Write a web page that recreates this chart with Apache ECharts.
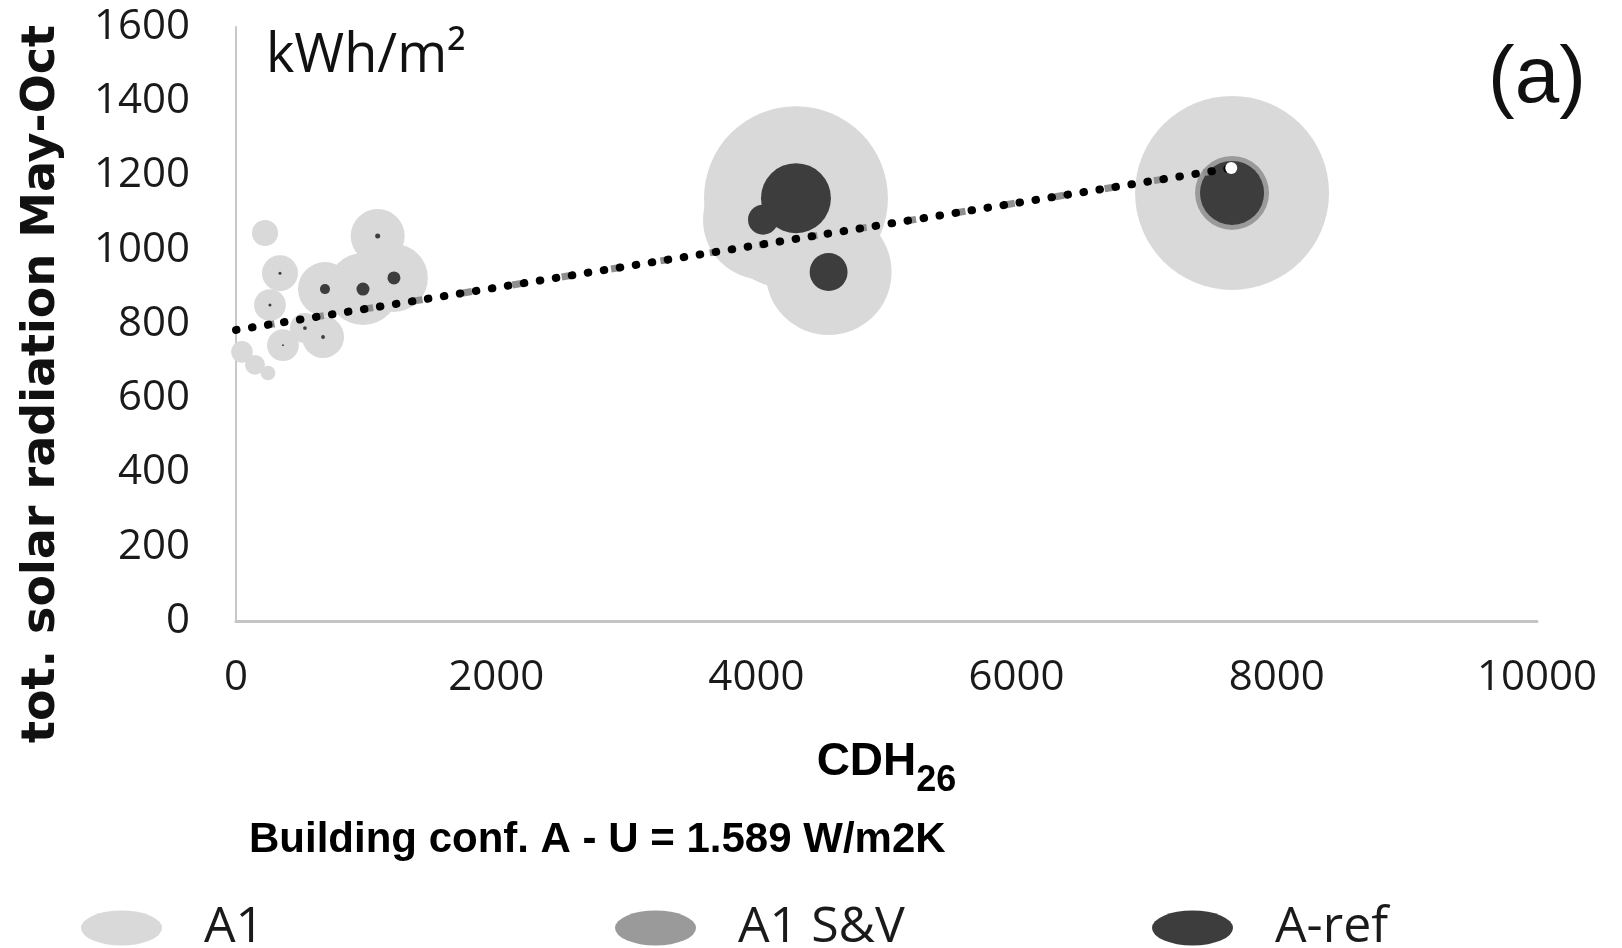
<!DOCTYPE html>
<html lang="en">
<head>
<meta charset="UTF-8">
<title>CDH26 vs solar radiation</title>
<script src="https://cdn.jsdelivr.net/npm/echarts@6/dist/echarts.min.js"></script>
<style>
  html, body { margin: 0; padding: 0; background: #fff; }
  #main { width: 1622px; height: 948px; }
</style>
</head>
<body>
<div id="main"></div>
<script>
// A1 bubbles (x = CDH26, y = kWh/m2, bubble value)
var a1X    = [7656, 4304, 4555, 4051, 1089, 1214, 976, 684, 669, 261, 338, 361, 246, 146, 46, 223, 530];
var a1Y    = [1153, 1139, 940, 1081, 1037, 924, 894, 894, 765, 851, 937, 743, 668, 690, 725, 1045, 789];
var a1Size = [1045, 940, 441, 400, 81, 128, 144, 81, 49, 28, 36, 28, 6, 11, 13, 19, 25];

// A1 S&V bubbles
var svX    = [7656, 4304, 4555, 4051];
var svY    = [1153, 1139, 940, 1081];
var svSize = [152, 100, 25, 16];

// A-ref bubbles
var refX    = [7656, 4304, 4555, 4051, 1089, 1214, 976, 684, 669, 261, 338, 361, 530];
var refY    = [1153, 1139, 940, 1081, 1037, 924, 894, 894, 765, 851, 937, 743, 789];
var refSize = [114, 136, 40, 25, 0.7, 4.7, 4.7, 2.8, 0.4, 0.25, 0.25, 0.1, 0.4];

// linear trend
var trendX = [0, 7650];
var trendY = [784, 1220];

var xTicks = [0, 2000, 4000, 6000, 8000, 10000];
var yTicks = [0, 200, 400, 600, 800, 1000, 1200, 1400, 1600];

function zip(xs, ys, ss) {
  return xs.map(function (x, i) { return [x, ys[i], ss[i]]; });
}
function bubble(v) { return Math.sqrt(v[2]) * 6; }
function plain(v) { return String(v); }

var FONT = 'Open Sans';
// ellipse drawn in an 81x35 box
var ellipse = 'path://M0,17.5 A40.5,17.5 0 1,1 81,17.5 A40.5,17.5 0 1,1 0,17.5 Z';

var legendBase = {
  top: 898,
  icon: ellipse,
  itemWidth: 81,
  itemHeight: 35,
  selectedMode: false,
  textStyle: { fontFamily: FONT, fontSize: 50, color: '#1a1a1a', padding: [0, 0, 0, 37] }
};

var myChart = echarts.init(document.getElementById('main'));

myChart.setOption({
  animation: false,
  backgroundColor: '#fff',
  title: {
    text: 'Building conf. A - U = 1.589 W/m2K',
    left: 244,
    top: 814,
    textStyle: { fontFamily: 'Liberation Sans', fontWeight: 'bold', fontSize: 42, color: '#000' }
  },
  legend: [
    Object.assign({}, legendBase, { left: 76, data: ['A1'] }),
    Object.assign({}, legendBase, { left: 610, data: ['A1 S&V'] }),
    Object.assign({}, legendBase, { left: 1147, data: ['A-ref'] })
  ],
  grid: { left: 236, right: 85, top: 27, bottom: 327 },
  xAxis: {
    type: 'value',
    min: xTicks[0],
    max: xTicks[xTicks.length - 1],
    interval: 2000,
    axisLine: { show: true, lineStyle: { color: '#c4c4c4', width: 3 } },
    axisTick: { show: false },
    splitLine: { show: false },
    axisLabel: { fontFamily: FONT, fontSize: 42, color: '#1a1a1a', margin: 36, formatter: plain },
    name: '{a|CDH}{b|26}',
    nameLocation: 'middle',
    nameGap: 118,
    nameTextStyle: {
      rich: {
        a: { fontFamily: 'Liberation Sans', fontWeight: 'bold', fontSize: 46, color: '#000', verticalAlign: 'top', lineHeight: 50 },
        b: { fontFamily: 'Liberation Sans', fontWeight: 'bold', fontSize: 36, color: '#000', verticalAlign: 'top', lineHeight: 40, padding: [24, 0, 0, 0] }
      }
    }
  },
  yAxis: {
    type: 'value',
    min: yTicks[0],
    max: yTicks[yTicks.length - 1],
    interval: 200,
    axisLine: { show: true, lineStyle: { color: '#c8c8c8', width: 2 } },
    axisTick: { show: false },
    splitLine: { show: false },
    axisLabel: { fontFamily: FONT, fontSize: 42, color: '#1a1a1a', margin: 46, formatter: plain }
  },
  graphic: [
    {
      type: 'text',
      left: 266, top: 30,
      style: { text: 'kWh/m²', font: '54px "Open Sans"', fill: '#111' }
    },
    {
      type: 'text',
      left: 1488, top: 40,
      style: { text: '(a)', font: '80px "Liberation Sans"', fill: '#111' }
    },
    {
      type: 'text',
      x: 19, y: 384,
      rotation: Math.PI / 2,
      style: {
        text: 'tot. solar radiation May-Oct',
        font: 'bold 46px "DejaVu Sans"',
        fill: '#111',
        align: 'center',
        verticalAlign: 'top'
      }
    }
  ],
  series: [
    {
      name: 'A1',
      type: 'scatter',
      data: zip(a1X, a1Y, a1Size),
      symbolSize: bubble,
      itemStyle: { color: '#d9d9d9', opacity: 1 },
      emphasis: { disabled: true },
      silent: true
    },
    {
      name: 'A1 S&V',
      type: 'scatter',
      data: zip(svX, svY, svSize),
      symbolSize: bubble,
      itemStyle: { color: '#9a9a9a', opacity: 1 },
      emphasis: { disabled: true },
      silent: true
    },
    {
      name: 'A-ref',
      type: 'scatter',
      data: zip(refX, refY, refSize),
      symbolSize: bubble,
      itemStyle: { color: '#3d3d3d', opacity: 1 },
      emphasis: { disabled: true },
      silent: true
    },
    {
      type: 'line',
      data: trendX.map(function (x, i) { return [x, trendY[i]]; }),
      symbol: 'none',
      lineStyle: { color: '#8f8f8f', width: 7, type: [9, 41], dashOffset: 20 },
      silent: true
    },
    {
      type: 'line',
      data: trendX.map(function (x, i) {
        if (i === trendX.length - 1) {
          return { value: [x, trendY[i]], symbol: 'circle', symbolSize: 12, itemStyle: { color: '#fff', borderWidth: 0 } };
        }
        return [x, trendY[i]];
      }),
      symbol: 'none',
      showSymbol: true,
      lineStyle: { color: '#000', width: 8, type: [0.5, 15.7], cap: 'round' },
      silent: true
    }
  ]
});
</script>
</body>
</html>
